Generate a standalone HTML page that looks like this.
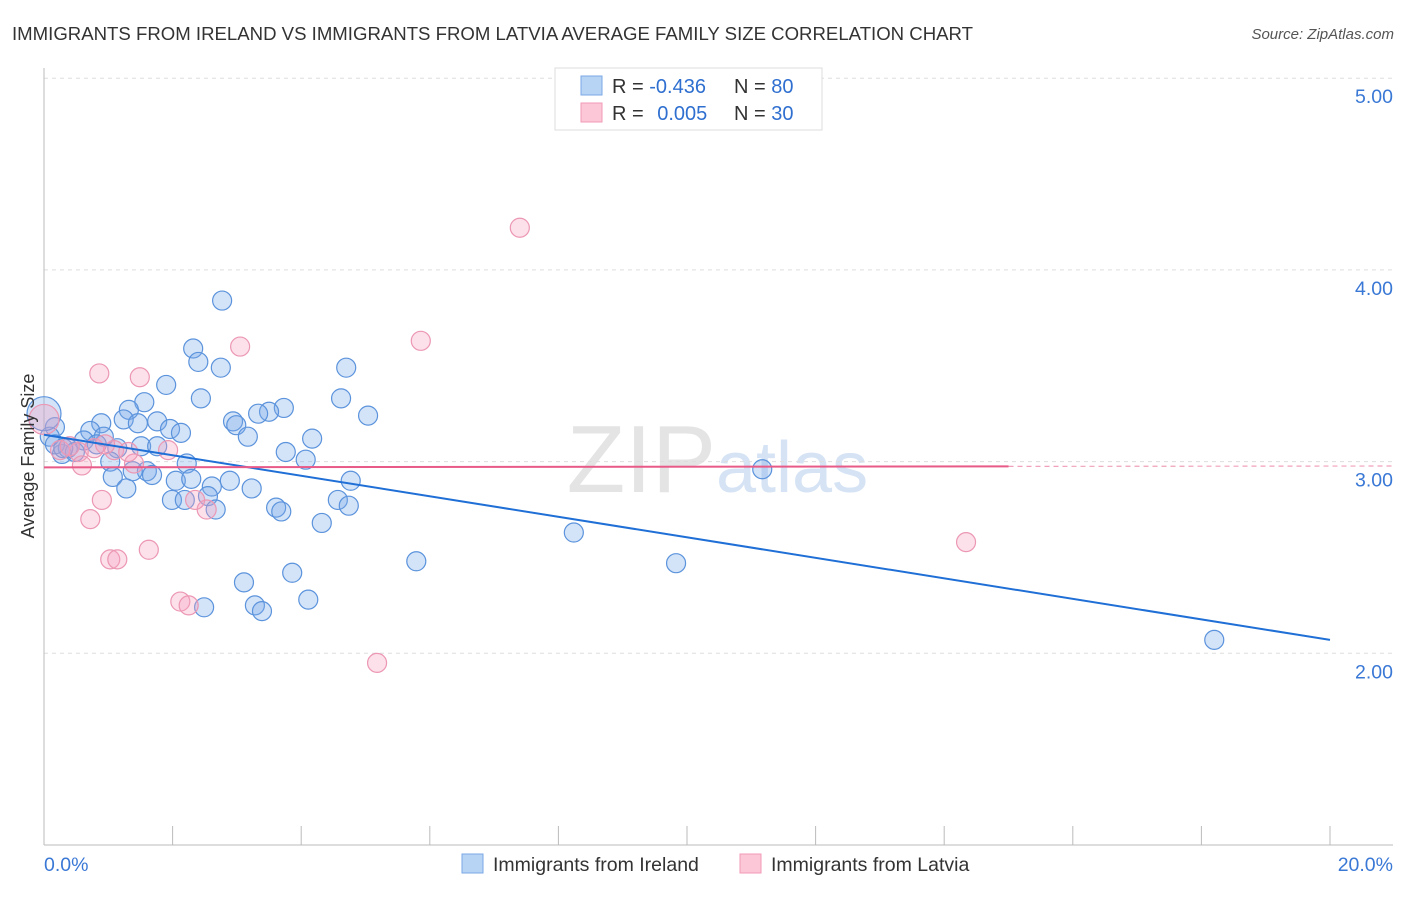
<!DOCTYPE html>
<html><head><meta charset="utf-8"><style>
body{margin:0;background:#fff;font-family:"Liberation Sans",sans-serif;}
svg text{font-family:"Liberation Sans",sans-serif;}
</style></head><body>
<svg id="c" width="1406" height="892" xmlns="http://www.w3.org/2000/svg">
<text x="12" y="40" font-size="18.6" fill="#333" textLength="961">IMMIGRANTS FROM IRELAND VS IMMIGRANTS FROM LATVIA AVERAGE FAMILY SIZE CORRELATION CHART</text>
<text x="1394" y="39" font-size="15" fill="#555" font-style="italic" text-anchor="end">Source: ZipAtlas.com</text>
<text x="716" y="492" font-size="96" fill="#e4e4e4" text-anchor="end" font-family="Liberation Serif">ZIP</text>
<text x="716" y="492" font-size="72" fill="#d5e3f5">atlas</text>
<g id="grid"></g><g id="axes"></g><g id="pts"></g><g id="trend"></g>
<g>
<rect x="555" y="68" width="267" height="62" fill="#fff" stroke="#ddd"/>
<rect x="581" y="76" width="21" height="19" fill="#b8d4f5" stroke="#7aa8e6"/>
<rect x="581" y="103" width="21" height="19" fill="#fcc8d8" stroke="#f09ab6"/>
<text x="612" y="93" font-size="20" fill="#333">R = <tspan fill="#2f6fd0">-0.436</tspan></text>
<text x="734" y="93" font-size="20" fill="#333">N = <tspan fill="#2f6fd0">80</tspan></text>
<text x="612" y="120" font-size="20" fill="#333">R = <tspan fill="#2f6fd0" dx="8">0.005</tspan></text>
<text x="734" y="120" font-size="20" fill="#333">N = <tspan fill="#2f6fd0">30</tspan></text>
</g>
<g>
<rect x="462" y="854" width="21" height="19" fill="#b8d4f5" stroke="#7aa8e6"/>
<text x="493" y="871" font-size="19.5" fill="#333">Immigrants from Ireland</text>
<rect x="740" y="854" width="21" height="19" fill="#fcc8d8" stroke="#f09ab6"/>
<text x="771" y="871" font-size="19.5" fill="#333">Immigrants from Latvia</text>
</g>
<text transform="translate(34,456) rotate(-90)" font-size="18" fill="#333" text-anchor="middle">Average Family Size</text>
</svg>
<script>
const yTicks=[2,3,4,5];
const yTickLabels=["2.00","3.00","4.00","5.00"];
const xTickLabels=["0.0%","20.0%"];
const irelandX=[2.77,2.32,2.40,2.75,4.70,1.90,4.62,2.44,1.56,1.32,5.04,3.73,3.50,3.33,2.94,2.99,1.24,0.89,1.46,1.76,1.96,2.13,0.72,3.17,4.17,0.93,0.17,0.09,1.51,1.76,0.62,0.82,1.14,3.76,0.28,0.37,0.48,1.03,4.07,2.22,1.60,1.38,1.68,1.07,2.05,2.89,2.29,4.77,1.28,2.61,3.23,1.99,2.19,2.55,4.57,3.61,3.69,2.67,4.74,4.32,11.17,8.24,5.79,9.83,3.11,3.86,4.11,2.49,3.28,3.39,18.20,0.17,0.30,0.0];
const irelandY=[3.84,3.59,3.52,3.49,3.49,3.40,3.33,3.33,3.31,3.27,3.24,3.28,3.26,3.25,3.21,3.19,3.22,3.20,3.20,3.21,3.17,3.15,3.16,3.13,3.12,3.13,3.18,3.13,3.08,3.08,3.11,3.09,3.07,3.05,3.04,3.07,3.05,3.00,3.01,2.99,2.95,2.95,2.93,2.92,2.90,2.90,2.91,2.90,2.86,2.87,2.86,2.80,2.80,2.82,2.80,2.76,2.74,2.75,2.77,2.68,2.96,2.63,2.48,2.47,2.37,2.42,2.28,2.24,2.25,2.22,2.07,3.09,3.07,3.25];
const latviaX=[7.40,5.86,3.05,0.86,1.49,0.25,0.54,0.78,1.09,0.59,1.40,1.31,0.90,0.72,2.53,2.35,1.93,1.63,1.03,1.14,2.12,2.25,5.18,14.34,0.40,0.95,0.0];
const latviaY=[4.22,3.63,3.60,3.46,3.44,3.06,3.05,3.07,3.06,2.98,2.99,3.05,2.80,2.70,2.75,2.80,3.06,2.54,2.49,2.49,2.27,2.25,1.95,2.58,3.08,3.09,3.22];
const irelandTrend=[3.14,2.07];
const latviaTrend=[2.97,2.975];
const X=v=>44+v*64.3, Y=v=>845-(v-1)*191.7;
const NS="http://www.w3.org/2000/svg";
function mk(t,a,p){const e=document.createElementNS(NS,t);for(const k in a)e.setAttribute(k,a[k]);p.appendChild(e);return e;}
const grid=document.getElementById('grid'),axes=document.getElementById('axes'),pts=document.getElementById('pts'),tr=document.getElementById('trend');
yTicks.forEach((v,i)=>{
 const l=mk('line',{x1:44,x2:1393,y1:Y(v),y2:Y(v),stroke:'#ddd','stroke-dasharray':'4,4'},grid);
 
 
 const t=mk('text',{x:1393,y:Y(v)+25,'font-size':19.5,fill:'#3a78d6','text-anchor':'end'},axes);
 t.textContent=yTickLabels[i];
 
 
});
const ax=mk('line',{x1:44,x2:44,y1:68,y2:845,stroke:'#bbb'},axes);


const bx=mk('line',{x1:44,x2:1393,y1:845,y2:845,stroke:'#bbb'},axes);


for(let i=0;i<=10;i++){
 const tk=mk('line',{x1:X(i*2),x2:X(i*2),y1:826,y2:845,stroke:'#bbb'},axes);
 
 
}
[[0,44,'start'],[1,1393,'end']].forEach(([i,x,a])=>{
 const t=mk('text',{x:x,y:871,'font-size':19.5,fill:'#3a78d6','text-anchor':a},axes);
 t.textContent=xTickLabels[i];
 
 
});
irelandX.forEach((x,i)=>{
 const big=(i===irelandX.length-1);
 const c=mk('circle',{cx:X(x),cy:Y(irelandY[i]),r:big?17:9.5,fill:'rgba(120,170,235,0.33)',stroke:'#5b93dc','stroke-width':1.2},pts);
 
 
});
latviaX.forEach((x,i)=>{
 const big=(i===latviaX.length-1);
 const c=mk('circle',{cx:X(x),cy:Y(latviaY[i]),r:big?15:9.5,fill:'rgba(245,160,190,0.33)',stroke:'#ec97b3','stroke-width':1.2},pts);
 
 
});
const b=mk('line',{x1:X(0),y1:Y(irelandTrend[0]),x2:X(20),y2:Y(irelandTrend[1]),stroke:'#1f6fd6','stroke-width':2},tr);


const sl=(latviaTrend[1]-latviaTrend[0])/15;
const p1=mk('line',{x1:X(0),y1:Y(latviaTrend[0]),x2:X(15),y2:Y(latviaTrend[1]),stroke:'#e85a87','stroke-width':2},tr);


const p2=mk('line',{x1:X(15),y1:Y(latviaTrend[1]),x2:X(21),y2:Y(latviaTrend[0]+sl*21),stroke:'#f0a0b8','stroke-width':1.2,'stroke-dasharray':'5,4'},tr);


</script>
</body></html>
